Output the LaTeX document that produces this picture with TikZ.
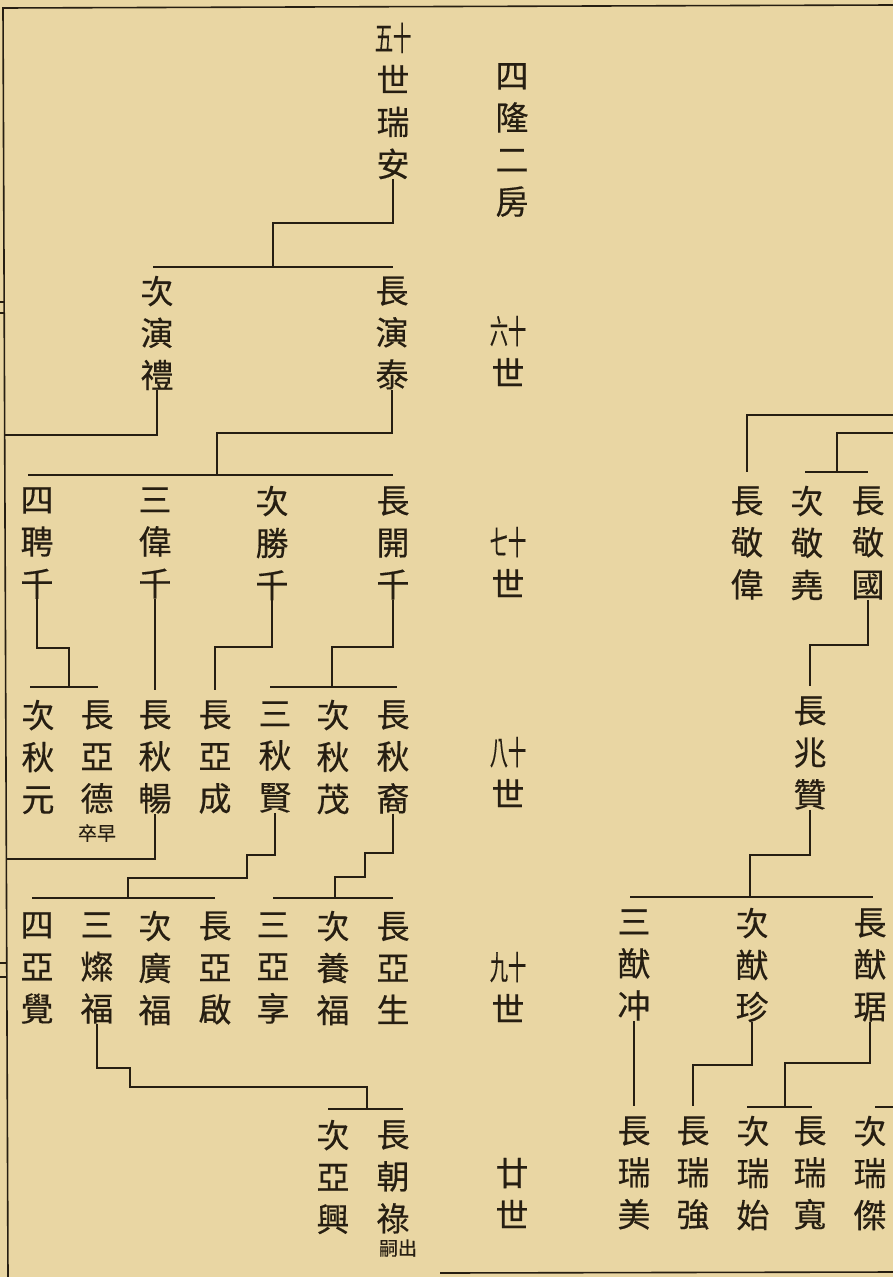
\documentclass[tikz,border=0pt]{standalone}
\usepackage{fontspec}
\usepackage{graphicx}
\newfontfamily\cjk[FakeBold=0.4]{Noto Sans CJK TC}
\definecolor{paper}{RGB}{233,214,163}
\definecolor{ink}{RGB}{38,30,18}
\newcommand\pairc[2]{\scalebox{0.55}[1]{#1#2}}
\begin{document}
\begin{tikzpicture}[x=1pt,y=-1pt,
  person/.style={font=\cjk\fontsize{33}{42}\selectfont, align=center, inner sep=0pt, text=ink},
  notetext/.style={font=\cjk\fontsize{19}{22}\selectfont, inner sep=0pt, text=ink},
  link/.style={draw=ink, line width=1.3pt},
  frame/.style={draw=ink, line width=1.6pt}]
\fill[paper] (0,0) rectangle (893,1277);
\useasboundingbox (0,0) rectangle (893,1277);
% frame
\draw[frame] (893,5) -- (3,8) -- (8,1277);
\draw[frame] (440,1273) -- (893,1272);
\draw[link] (0,302) -- (5,302); \draw[link] (0,313) -- (5,313);
\draw[link] (0,963) -- (6,963); \draw[link] (0,977) -- (6,977);
% generation labels
\node[person] (title) at (512,140) {四\\隆\\二\\房};
\node[person] (g60) at (508,351) {\pairc{六}{十}\\世};
\node[person] (g70) at (508,562) {\pairc{七}{十}\\世};
\node[person] (g80) at (508,772) {\pairc{八}{十}\\世};
\node[person] (g90) at (508,987) {\pairc{九}{十}\\世};
\node[person] (g20) at (512,1193) {廿\\世};
% gen 50
\node[person] (n50) at (393,101) {\pairc{五}{十}\\世\\瑞\\安};
% gen 60
\node[person] (c60a) at (157,333) {次\\演\\禮};
\node[person] (c60b) at (392,333) {長\\演\\泰};
% gen 70 left
\node[person] (c70a) at (37,543) {四\\聘\\千};
\node[person] (c70b) at (155,543) {三\\偉\\千};
\node[person] (c70c) at (272,543) {次\\勝\\千};
\node[person] (c70d) at (393,543) {長\\開\\千};
% gen 80 left
\node[person] (c80a) at (38,757) {次\\秋\\元};
\node[person] (c80b) at (97,757) {長\\亞\\德};
\node[notetext] (nb) at (97,833) {卒早};
\node[person] (c80c) at (155,757) {長\\秋\\暢};
\node[person] (c80d) at (215,757) {長\\亞\\成};
\node[person] (c80e) at (275,757) {三\\秋\\賢};
\node[person] (c80f) at (333,757) {次\\秋\\茂};
\node[person] (c80g) at (393,757) {長\\秋\\裔};
% gen 90 left
\node[person] (c90a) at (37,968) {四\\亞\\覺};
\node[person] (c90b) at (97,968) {三\\燦\\福};
\node[person] (c90c) at (155,968) {次\\廣\\福};
\node[person] (c90d) at (215,968) {長\\亞\\啟};
\node[person] (c90e) at (273,968) {三\\亞\\享};
\node[person] (c90f) at (333,968) {次\\養\\福};
\node[person] (c90g) at (393,968) {長\\亞\\生};
% gen 20 left
\node[person] (c20a) at (333,1177) {次\\亞\\興};
\node[person] (c20b) at (393,1177) {長\\朝\\祿};
\node[notetext] (nc) at (398,1248) {嗣出};
% right side
\node[person] (r70a) at (747,543) {長\\敬\\偉};
\node[person] (r70b) at (807,543) {次\\敬\\堯};
\node[person] (r70c) at (868,543) {長\\敬\\國};
\node[person] (r80) at (810,753) {長\\兆\\贊};
\node[person] (r90a) at (634,965) {三\\猷\\冲};
\node[person] (r90b) at (752,965) {次\\猷\\珍};
\node[person] (r90c) at (870,965) {長\\猷\\琚};
\node[person] (r20a) at (634,1173) {長\\瑞\\美};
\node[person] (r20b) at (693,1173) {長\\瑞\\強};
\node[person] (r20c) at (753,1173) {次\\瑞\\始};
\node[person] (r20d) at (810,1173) {長\\瑞\\寬};
\node[person] (r20e) at (870,1173) {次\\瑞\\傑};
% connectors left
\draw[link] (n50.south) |- (273,223) -- (273,267);
\draw[link] (153,267) -- (393,267);
\draw[link] (c60a.south) |- (4,435);
\draw[link] (c60b.south) |- (217,433) -- (217,475);
\draw[link] (28,475) -- (393,475);
\draw[link] (c70a.south) |- (69,648) -- (69,687);
\draw[link] (30,687) -- (98,687);
\draw[link] (c70b.south) -- ([yshift=10pt]c80c.north);
\draw[link] (c70c.south) |- (215,647) -- ([yshift=10pt]c80d.north);
\draw[link] (c70d.south) |- (332,647) -- (332,687);
\draw[link] (270,687) -- (397,687);
\draw[link] (c80c.south) |- (6,859);
\draw[link] (c80e.south) |- (247,855) |- (128,878) -- (128,898);
\draw[link] (32,898) -- (215,898);
\draw[link] (c80g.south) |- (365,853) |- (335,877) -- (335,898);
\draw[link] (273,898) -- (393,898);
\draw[link] (c90b.south) |- (130,1068) |- (367,1087) -- (367,1109);
\draw[link] (328,1109) -- (403,1109);
% connectors right
\draw[link] (893,415) -| (747,472);
\draw[link] (893,433) -| (837,472);
\draw[link] (805,472) -- (868,472);
\draw[link] (r70c.south) |- (810,645) -- ([yshift=10pt]r80.north);
\draw[link] (r80.south) |- (750,855) -- (750,897);
\draw[link] (630,897) -- (873,897);
\draw[link] (r90a.south) -- ([yshift=10pt]r20a.north);
\draw[link] (r90b.south) |- (693,1065) -- ([yshift=10pt]r20b.north);
\draw[link] (r90c.south) |- (785,1063) -- (785,1107);
\draw[link] (747,1107) -- (812,1107);
\draw[link] (875,1107) -- (893,1107);
\end{tikzpicture}
\end{document}
